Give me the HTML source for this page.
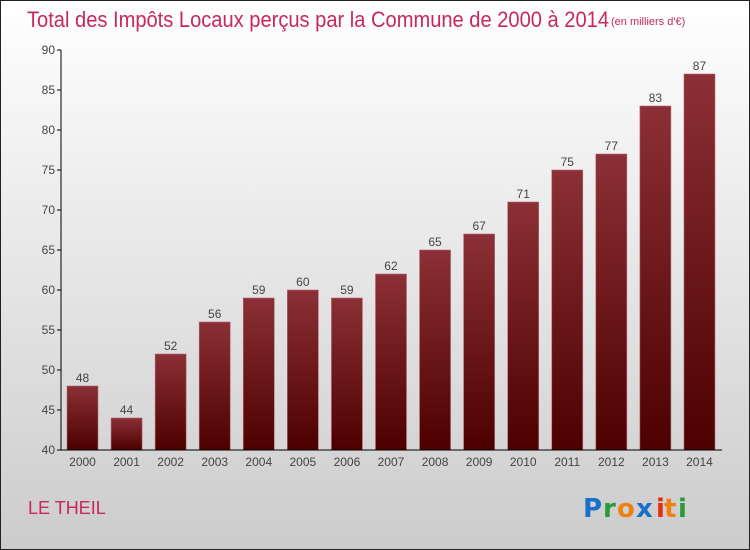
<!DOCTYPE html>
<html><head><meta charset="utf-8"><style>
html,body{margin:0;padding:0;width:750px;height:550px;overflow:hidden}
svg{display:block;font-family:"Liberation Sans",sans-serif}
</style></head><body>
<svg id="chart" width="750" height="550">
<defs>
<linearGradient id="bg" x1="0" y1="0" x2="0" y2="1"><stop offset="0" stop-color="#ffffff"/><stop offset="1" stop-color="#cccccc"/></linearGradient>
<linearGradient id="bar" x1="0" y1="0" x2="0" y2="1"><stop offset="0" stop-color="#8b3036"/><stop offset="1" stop-color="#4d0000"/></linearGradient>
</defs>
<rect x="0.5" y="0.5" width="749" height="549" fill="url(#bg)" stroke="#222"/>
<text x="27" y="27" font-size="22" fill="#c8285a" textLength="582" lengthAdjust="spacingAndGlyphs">Total des Impôts Locaux perçus par la Commune de 2000 à 2014</text>
<text x="611" y="25" font-size="11" fill="#c8285a">(en milliers d'€)</text>
<g id="plot"></g>
<text x="28" y="514" font-size="18" fill="#c8285a">LE THEIL</text>
<g font-size="26" font-weight="bold" font-family="'DejaVu Sans',sans-serif">
<text x="583" y="517" fill="#1a6fc8">P</text><text x="603" y="517" fill="#2a9a3a">r</text><text x="617" y="517" fill="#f08010">o</text><text x="636" y="517" fill="#1a6fc8">x</text><text x="656" y="517" fill="#e03010">i</text><text x="664" y="517" fill="#f08010">t</text><text x="678" y="517" fill="#2a9a3a">i</text>
</g>
</svg>
<script>
const years = ["2000","2001","2002","2003","2004","2005","2006","2007","2008","2009","2010","2011","2012","2013","2014"];
const values = [48,44,52,56,59,60,59,62,65,67,71,75,77,83,87];
const yTicks = [40,45,50,55,60,65,70,75,80,85,90];
const NS="http://www.w3.org/2000/svg";
const g=document.getElementById('plot');
const y0=450,y1=50,vmin=40,vmax=90;
const yS=v=>y0-(v-vmin)/(vmax-vmin)*(y0-y1);
const step=44.07,bx0=67,bw=31;
const xS=i=>bx0+i*step;
function mk(t,a,txt){const e=document.createElementNS(NS,t);for(const k in a)e.setAttribute(k,a[k]);if(txt!==undefined)e.textContent=txt;g.appendChild(e);return e;}
yTicks.forEach(t=>{
 const l=mk('line',{x1:57,x2:61,y1:yS(t),y2:yS(t),stroke:'#000'});
 
 
 const tx=mk('text',{x:55,y:yS(t)+4,'font-size':12,fill:'#444','text-anchor':'end'},t);
 
 
});
values.forEach((v,i)=>{
 const r=mk('rect',{x:xS(i),y:yS(v),width:bw,height:y0-yS(v),fill:'url(#bar)',stroke:'#b06a70','stroke-width':0.6});
 
 
 const vl=mk('text',{x:xS(i)+bw/2,y:yS(v)-4,'font-size':12,fill:'#444','text-anchor':'middle'},v);
 
 
 const xl=mk('text',{x:xS(i)+bw/2,y:466,'font-size':12,fill:'#444','text-anchor':'middle'},years[i]);
 
 
});
const ya=mk('line',{x1:61,x2:61,y1:y1,y2:y0+0.5,stroke:'#000'});


const xa=mk('line',{x1:57,x2:722,y1:y0,y2:y0,stroke:'#000'});


</script>
</body></html>
